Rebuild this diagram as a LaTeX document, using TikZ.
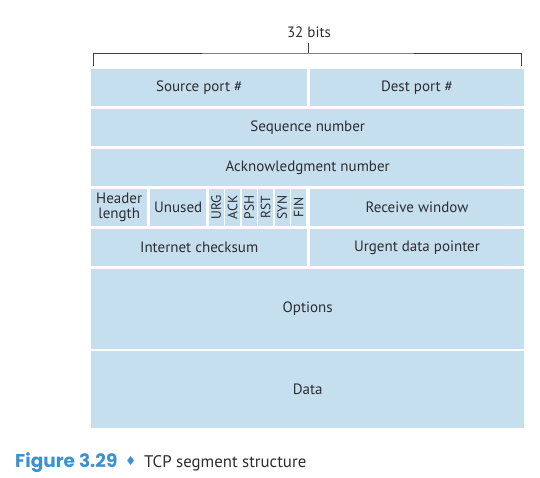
\documentclass[tikz,border=0pt]{standalone}
\usepackage{fontspec}
\setmainfont{PT Sans}
\newfontfamily\capfont{Poppins}
\newfontfamily\djv{DejaVu Sans}
\definecolor{cellblue}{RGB}{198,223,239}
\definecolor{txt}{RGB}{45,45,50}
\definecolor{capblue}{RGB}{60,145,210}
\begin{document}
\begin{tikzpicture}[x=1pt,y=-1pt,
  cell/.style={fill=cellblue, inner sep=0pt, anchor=north west, text=txt, font=\fontsize{15}{16}\selectfont, align=center},
  flagtxt/.style={rotate=90, text=txt, font=\fontsize{13.5}{14}\selectfont, inner sep=0pt},
  bracket/.style={draw=black!75, line width=0.8pt}]
\useasboundingbox (0,0) rectangle (540,477);
% helper: cell by corners
\newcommand\cellbox[6]{\node[cell, minimum width=#4-#2, minimum height=#5-#3] (#1) at (#2,#3) {#6};}
\cellbox{src}{91}{69}{307}{106}{Source port \#}
\cellbox{dst}{309.5}{69}{524}{106}{Dest port \#}
\cellbox{seq}{91}{108.5}{524}{146}{Sequence number}
\cellbox{ack}{91}{148.5}{524}{186}{Acknowledgment number}
\cellbox{hdr}{91}{188.5}{147}{226}{Header\\[-1pt]length}
\cellbox{unused}{150}{188.5}{206}{226}{Unused}
\cellbox{fu}{208.5}{188.5}{223.5}{226}{}
\cellbox{fa}{225}{188.5}{240}{226}{}
\cellbox{fp}{241.5}{188.5}{256.5}{226}{}
\cellbox{fr}{258}{188.5}{273}{226}{}
\cellbox{fs}{274.5}{188.5}{289.5}{226}{}
\cellbox{ff}{291}{188.5}{306}{226}{}
\cellbox{rwin}{309.5}{188.5}{524}{226}{Receive window}
\cellbox{csum}{91}{228.5}{307}{266}{Internet checksum}
\cellbox{urg}{309.5}{228.5}{524}{266}{Urgent data pointer}
\cellbox{opt}{91}{268.5}{524}{348.5}{Options}
\cellbox{data}{91}{350.5}{524}{428}{Data}
\node[flagtxt] (tu) at (fu.center) {URG};
\node[flagtxt] (ta) at (fa.center) {ACK};
\node[flagtxt] (tp) at (fp.center) {PSH};
\node[flagtxt] (tr) at (fr.center) {RST};
\node[flagtxt] (ts) at (fs.center) {SYN};
\node[flagtxt] (tf) at (ff.center) {FIN};
% bracket
\coordinate (bl) at (93.5,65.5);
\coordinate (br) at (521.5,65.5);
\coordinate (bm) at (308.5,53);
\coordinate (bt) at (308.5,43);
\draw[bracket] (bl) |- (bm) -| (br);
\draw[bracket] (bm) -- (bt);
\node[text=txt, font=\fontsize{15}{16}\selectfont] (bits) at (309,32) {32 bits};
% caption
\node[anchor=base west, inner sep=0pt, text=capblue, font=\capfont\bfseries\fontsize{18.5}{20}\selectfont] (fig) at (15,467) {Figure 3.29};
\node[anchor=base west, inner sep=0pt, text=capblue, font=\djv\fontsize{12.5}{13}\selectfont] (dia) at (125,465) {♦};
\node[anchor=base west, inner sep=0pt, text=txt, font=\fontsize{16.8}{18}\selectfont] (capt) at (144,467) {TCP segment structure};
\end{tikzpicture}
\end{document}
